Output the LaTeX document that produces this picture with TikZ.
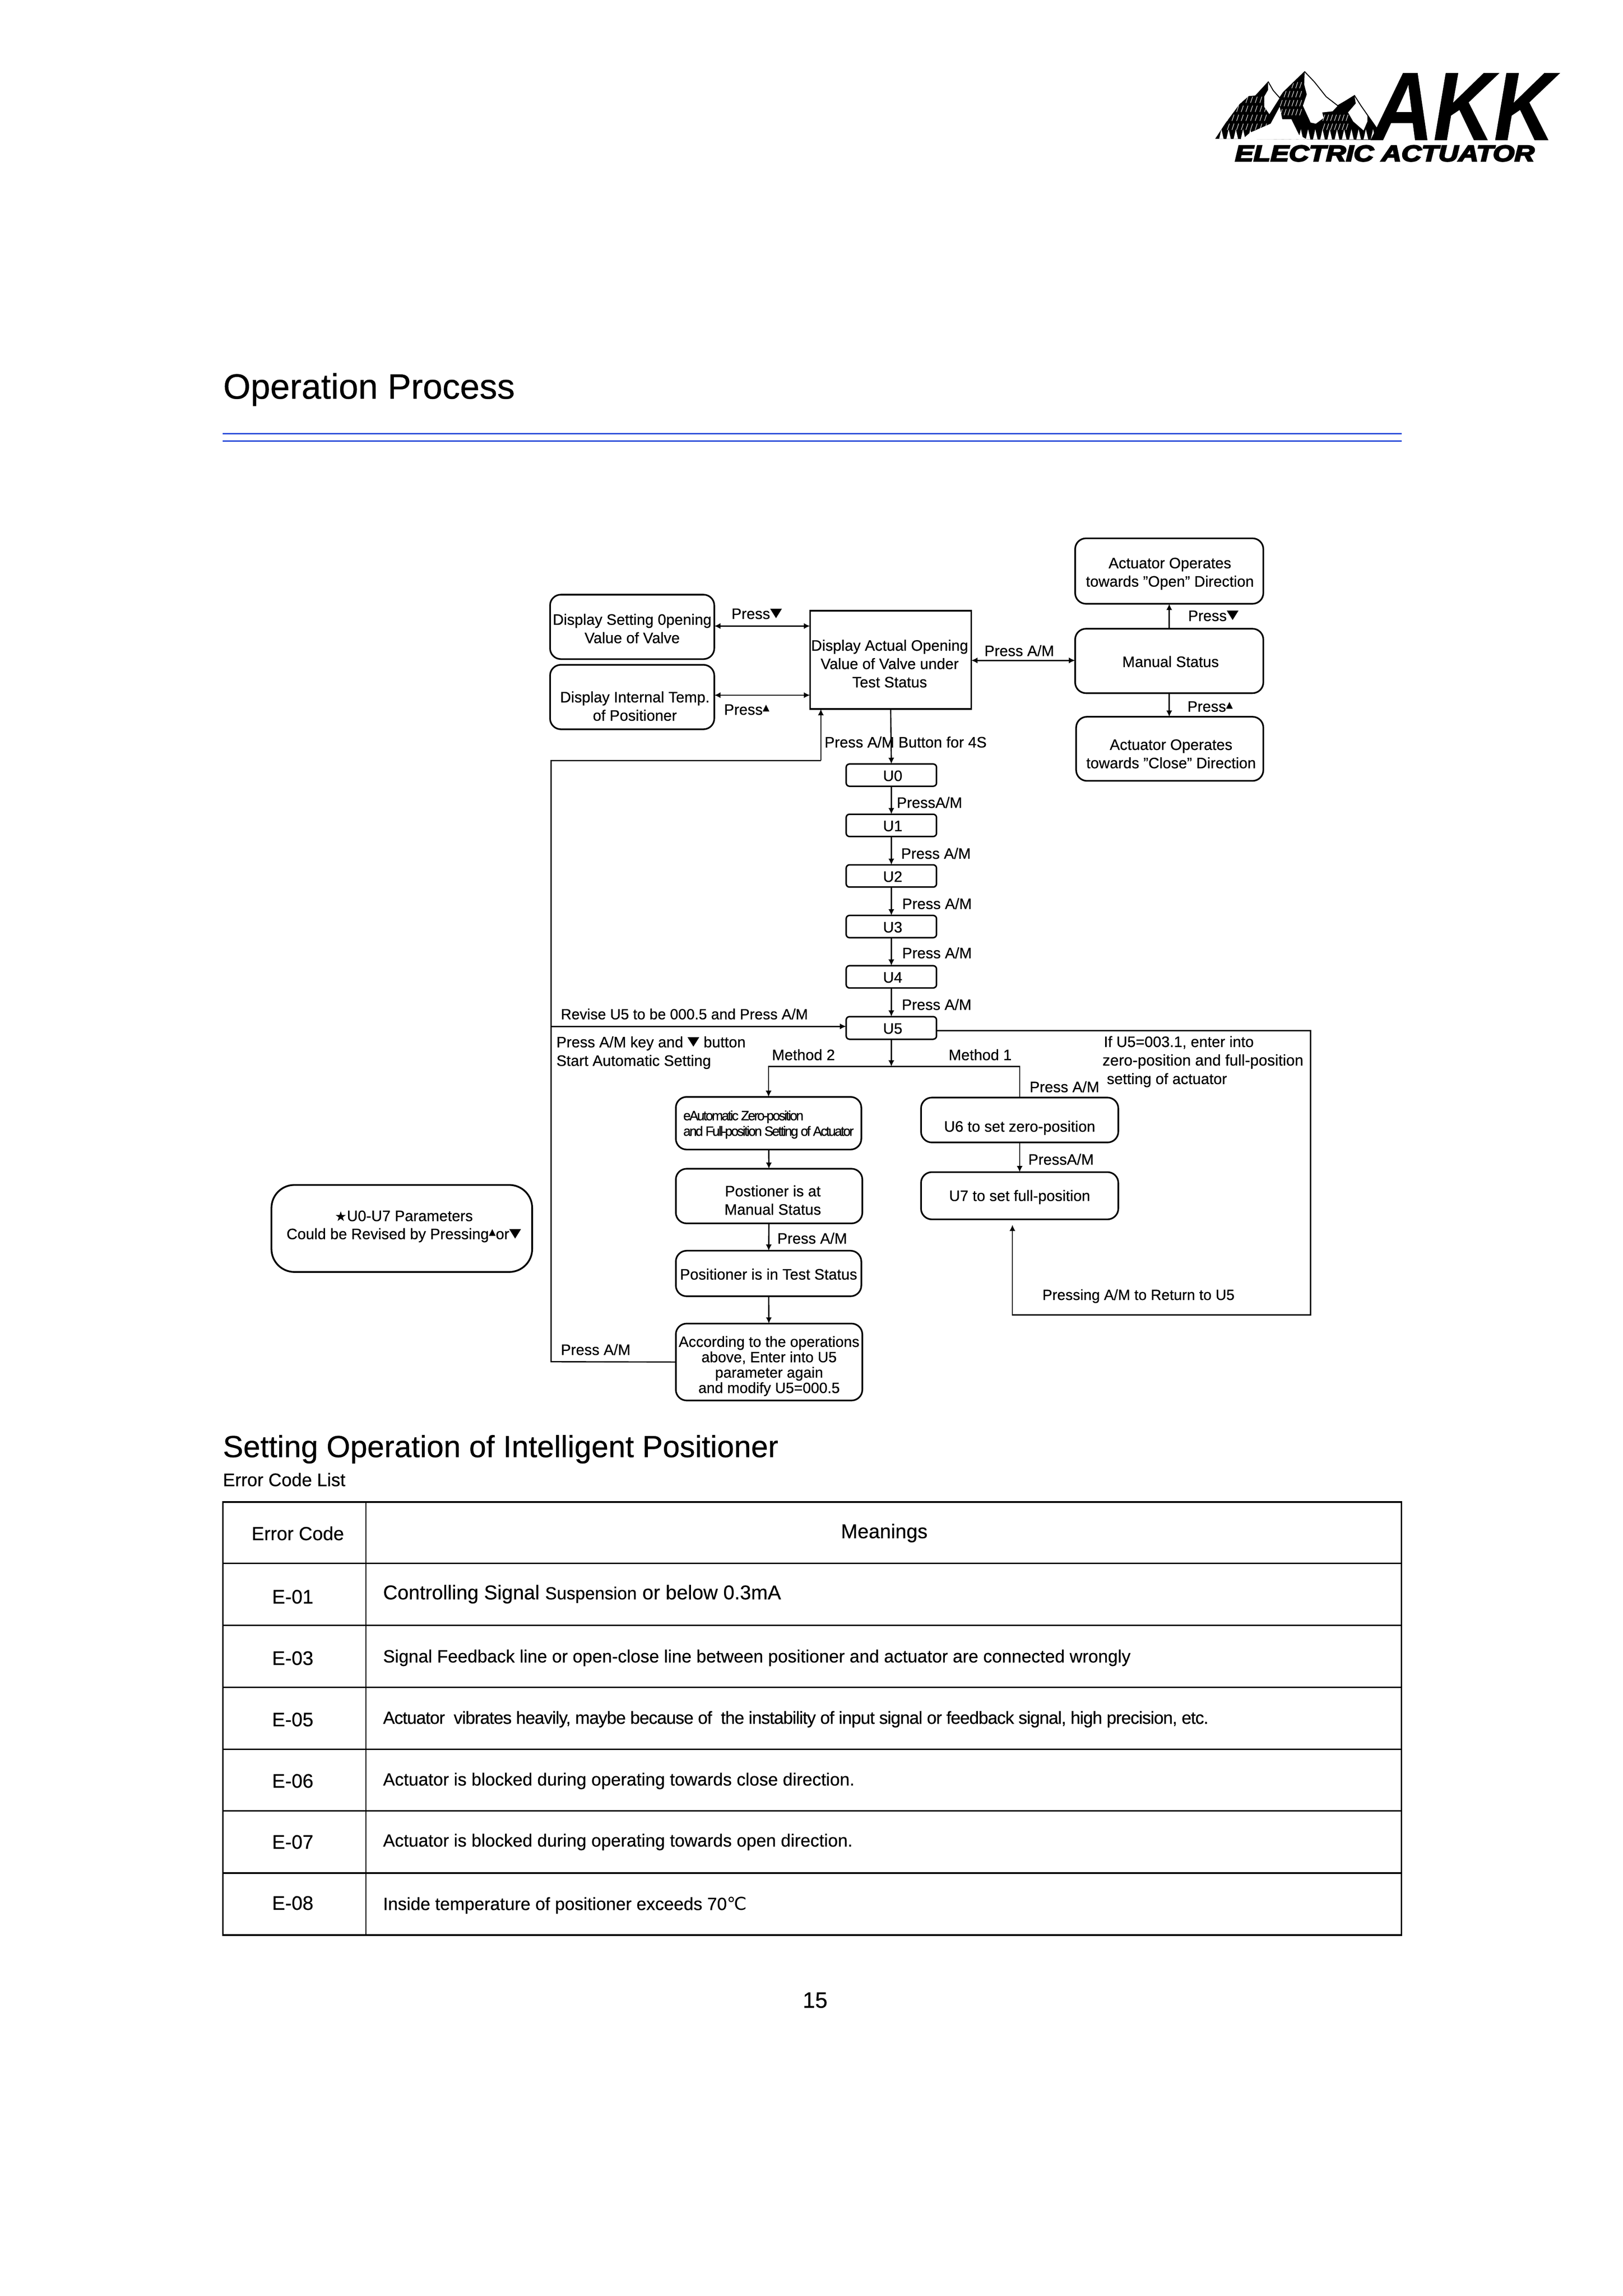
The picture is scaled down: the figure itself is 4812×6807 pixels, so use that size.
\documentclass[tikz,border=0pt]{standalone}
\usepackage{fontspec}
\setmainfont[FakeBold=0.5]{Liberation Sans}
\newfontfamily\sym{DejaVu Sans}
\newfontfamily\logof[FakeBold=5]{Liberation Sans}
\usetikzlibrary{arrows.meta}
\newcommand\fs[2]{\fontsize{#1}{#2}\selectfont}
\newcommand\dnt{\raisebox{1.5pt}{\scalebox{1}[.8]{\sym\fs{11.5}{11.5}▼}}}
\newcommand\upt{\raisebox{3pt}{\sym\fs{6.6}{6.6}▲}}
\newcommand\bx[6]{\node[#1,minimum width={(#5-#3)*0.25pt},minimum height={(#6-#4)*0.25pt}] (#2) at ({(#3+#5)/2},{(#4+#6)/2}) {};}
\tikzset{
  rbx/.style={draw=black,line width=1.2pt,rounded corners=8pt,inner sep=0,outer sep=0},
  ubx/.style={draw=black,line width=1.1pt,rounded corners=2.5pt,inner sep=0,outer sep=0},
  sbx/.style={draw=black,line width=1.2pt,inner sep=0,outer sep=0},
  starbx/.style={draw=black,line width=1.3pt,rounded corners=17pt,inner sep=0,outer sep=0},
  txt/.style={align=center,inner sep=0,outer sep=0,font=\fs{11.2}{13.6}},
  lbl/.style={anchor=west,inner sep=0,outer sep=0,text height=8pt,text depth=0pt,font=\fs{11.2}{13.6}},
  conn/.style={line width=0.9pt,draw=black},
  arr/.style={conn,-{Latex[length=4.6pt,width=4.4pt]}},
  darr/.style={conn,{Latex[length=4.6pt,width=4.4pt]}-{Latex[length=4.6pt,width=4.4pt]}},
  tbl/.style={draw=black,line width=1.1pt},
  tcode/.style={inner sep=0,outer sep=0,font=\fs{14.5}{16}},
  tmean/.style={anchor=west,inner sep=0,outer sep=0,text height=8.8pt,text depth=0pt,font=\fs{13.1}{15}},
  blueln/.style={draw={rgb,255:red,36;green,71;blue,216},line width=1pt},
  ttl/.style={anchor=base west,inner sep=0,outer sep=0}
}
\begin{document}
\begin{tikzpicture}[x=0.25pt,y=-0.25pt]
\useasboundingbox (0,0) rectangle (4812,6807);

% --- logo
\begin{scope}[shift={(3500,100)},x=0.19125pt,y=-0.08333pt]
  \def\mtn{(135,935)--(175,795)--(230,625)--(265,555)--(290,550)--(340,425)--(360,505)--(385,570)--(400,520)--(482,338)--(520,430)--(565,560)--(610,640)--(640,600)--(675,550)--(700,640)--(770,870)--(760,945)--cycle}
  \fill[black] \mtn;
  \begin{scope}
    \clip \mtn;
    \foreach \xa in {190,208,...,340}{\foreach \ya in {560,640,720,800}{
      \draw[white,line width=0.35pt] (\xa,\ya)--(\xa-8,\ya+55);}}
    \foreach \xa in {395,410,...,480}{\foreach \ya in {430,510,590,670}{
      \draw[white,line width=0.35pt] (\xa,\ya)--(\xa-8,\ya+55);}}
    \foreach \xa in {560,575,...,650}{\foreach \ya in {720,800}{
      \draw[white,line width=0.35pt] (\xa,\ya)--(\xa-8,\ya+55);}}
    \fill[white] (340,428)--(360,505)--(385,570)--(345,715)--(325,650)--(325,560)--(340,500)--cycle;
    \fill[white] (482,340)--(520,430)--(565,560)--(610,640)--(590,690)--(550,700)--(555,750)--(525,800)--(505,790)--(475,640)--(490,540)--(480,450)--cycle;
    \fill[white] (675,552)--(700,640)--(725,730)--(725,780)--(710,860)--(670,780)--(650,700)--(680,620)--cycle;
    \fill[white] (385,650)--(395,760)--(430,760)--(460,900)--(490,940)--(240,940)--(270,880)--(350,800)--cycle;
    \foreach \xa in {150,178,...,740}{
      \fill[white] (\xa,940)--(\xa+9,850)--(\xa+18,940)--cycle;}
  \end{scope}
  \draw[black,line width=0.7pt] (340,425)--(360,505)--(385,570)--(400,520)--(482,338)--(520,430)--(565,560)--(610,640)--(640,600)--(675,550)--(700,640)--(770,870);
\end{scope}
\node[inner sep=0,outer sep=0,anchor=base west] (logoakk) at (4070,415)
  {\scalebox{.865}[1]{\bfseries\itshape\fontsize{72}{72}\selectfont AKK}};
\node[inner sep=0,outer sep=0,anchor=base west] (logoea) at (3662,478)
  {\scalebox{1.224}[1]{\logof\bfseries\itshape\fontsize{16.8}{17}\selectfont ELECTRIC ACTUATOR}};

% --- headings
\node[ttl,font=\fs{26.1}{28}] (h1) at (662,1182) {Operation Process};
\draw[blueln] (660,1286)--(4156,1286);
\draw[blueln] (660,1307)--(4156,1307);
\node[ttl,font=\fs{22.65}{25}] (h2) at (661,4320) {Setting Operation of Intelligent Positioner};
\node[ttl,font=\fs{13.5}{15}] (h3) at (661,4406) {Error Code List};

% --- flow boxes
\bx{rbx}{setting}{1631}{1763}{2118}{1954}
\bx{rbx}{internal}{1631}{1971}{2118}{2162}
\bx{sbx}{main}{2402}{1811}{2880}{2102}
\bx{rbx}{open}{3188}{1596}{3746}{1790}
\bx{rbx}{manual}{3188}{1864}{3746}{2055}
\bx{rbx}{close}{3191}{2125}{3746}{2315}
\bx{ubx}{U0}{2509}{2265}{2777}{2331}
\bx{ubx}{U1}{2509}{2414}{2777}{2480}
\bx{ubx}{U2}{2509}{2564}{2777}{2630}
\bx{ubx}{U3}{2509}{2714}{2777}{2780}
\bx{ubx}{U4}{2509}{2863}{2777}{2929}
\bx{ubx}{U5}{2509}{3014}{2777}{3081}
\bx{rbx}{auto}{2004}{3252}{2554}{3408}
\bx{rbx}{post}{2004}{3465}{2557}{3627}
\bx{rbx}{test}{2004}{3708}{2554}{3843}
\bx{rbx}{accord}{2004}{3924}{2557}{4152}
\bx{rbx}{U6}{2731}{3254}{3316}{3387}
\bx{rbx}{U7}{2731}{3475}{3316}{3615}
\bx{starbx}{star}{805}{3513}{1578}{3771}

\node[txt] (setting-t) at ([shift={(0,5)}]setting.center) {Display Setting 0pening\\Value of Valve};
\node[txt] (internal-t) at ([shift={(8,27)}]internal.center) {Display Internal Temp.\\of Positioner};
\node[txt] (main-t) at ([shift={(-3,11)}]main.center) {Display Actual Opening\\Value of Valve under\\Test Status};
\node[txt] (open-t) at ([shift={(2,8)}]open.center) {Actuator Operates\\towards "Open" Direction};
\node[txt] (manual-t) at ([shift={(4,2)}]manual.center) {Manual Status};
\node[txt] (close-t) at ([shift={(4,15)}]close.center) {Actuator Operates\\towards "Close" Direction};
\foreach \u in {U0,U1,U2,U3,U4,U5}{\node[txt] (\u-t) at ([shift={(4,2)}]\u.center) {\u};}
\node[txt,anchor=west,align=left,font={\fs{10}{11.5}\addfontfeature{LetterSpace=-10}}] (auto-t) at ([shift={(22,4)}]auto.west) {eAutomatic Zero-position\\and Full-position Setting of Actuator};
\node[txt] (post-t) at ([shift={(11,12)}]post.center) {Postioner is at\\Manual Status};
\node[txt] (test-t) at ([shift={(0,2)}]test.center) {Positioner is in Test Status};
\node[txt,font=\fs{11}{11.4}] (accord-t) at ([shift={(0,12)}]accord.center) {According to the operations\\above, Enter into U5\\parameter again\\and modify U5=000.5};
\node[txt] (U6-t) at ([shift={(0,23)}]U6.center) {U6 to set zero-position};
\node[txt] (U7-t) at ([shift={(0,4)}]U7.center) {U7 to set full-position};
\node[txt,font=\fs{11.2}{13.4}] (star-t) at ([shift={(6,-6)}]star.center) {{\sym\fs{10}{10}★}U0-U7 Parameters\\Could be Revised by Pressing\upt or\dnt};

% --- flow connectors
\coordinate (lt) at (1634,2255);
\coordinate (lb) at (1634,4037);
\coordinate (li) at (2434,2255);
\coordinate (lm) at (1634,3043);
\coordinate (bus) at (2643,3162);
\coordinate (r1) at (3886,3056);
\coordinate (r2) at (3886,3898);
\coordinate (r3) at (3002,3898);
\coordinate (r4) at (3002,3631);
\draw[darr] (setting.east |- 0,1856) -- (main.west |- 0,1856);
\draw[darr] (internal.east |- 0,2061) -- (main.west |- 0,2061);
\draw[darr] (main.east |- 0,1958) -- (manual.west |- 0,1958);
\draw[arr] (manual.north) -- (open.south);
\draw[arr] (manual.south) -- (close.north -| manual.south);
\draw[arr] (main.south) -- (U0.north);
\draw[arr] (U0) -- (U1);
\draw[arr] (U1) -- (U2);
\draw[arr] (U2) -- (U3);
\draw[arr] (U3) -- (U4);
\draw[arr] (U4) -- (U5);
\draw[arr] (U5) -- (bus);
\draw[arr] (bus) -| (auto.north);
\draw[conn] (bus) -| (U6.north);
\draw[arr] (auto) -- (post);
\draw[arr] (post) -- (test);
\draw[arr] (test) -- (accord);
\draw[arr] (U6) -- (U7);
\draw[conn] (accord.west) -- (lb) -- (lt) -- (li);
\draw[arr] (li) -- (li |- main.south);
\draw[arr] (lm) -- (lm -| U5.west);
\draw[arr] (U5.east |- r1) -- (r1) -- (r2) -- (r3) -- (r4);

% --- flow labels
\node[lbl] (l1) at (2169,1819) {Press\dnt};
\node[lbl] (l2) at (2147,2103) {Press\upt};
\node[lbl] (l3) at (2919,1929) {Press A/M};
\node[lbl] (l4) at (3523,1825) {Press\dnt};
\node[lbl] (l5) at (3521,2094) {Press\upt};
\node[lbl] (l6) at (2445,2200) {Press A/M Button for 4S};
\node[lbl] (l7) at (2659,2379) {PressA/M};
\node[lbl] (l8) at (2672,2530) {Press A/M};
\node[lbl] (l9) at (2675,2679) {Press A/M};
\node[lbl] (l10) at (2675,2825) {Press A/M};
\node[lbl] (l11) at (2674,2978) {Press A/M};
\node[lbl,font=\fs{10.95}{13.6}] (l12) at (1663,3006) {Revise U5 to be 000.5 and Press A/M};
\node[lbl] (l13) at (1650,3089) {Press A/M key and \dnt{} button};
\node[lbl] (l14) at (1650,3144) {Start Automatic Setting};
\node[lbl] (l15) at (2289,3127) {Method 2};
\node[lbl] (l16) at (2813,3127) {Method 1};
\node[lbl] (l17) at (3273,3088) {If U5=003.1, enter into};
\node[lbl,font=\fs{11.45}{13.6}] (l18) at (3269,3143) {zero-position and full-position};
\node[lbl] (l19) at (3282,3198) {setting of actuator};
\node[lbl] (l20) at (3053,3222) {Press A/M};
\node[lbl] (l21) at (3049,3437) {PressA/M};
\node[lbl] (l22) at (2305,3671) {Press A/M};
\node[lbl,font=\fs{10.95}{13.6}] (l23) at (3091,3838) {Pressing A/M to Return to U5};
\node[lbl] (l24) at (1663,4001) {Press A/M};

% --- table
\draw[tbl] (661,4453) rectangle (4156,5737);
\foreach \ya in {4635,4819,5002,5186,5369,5553}{\draw[tbl] (661,\ya)--(4156,\ya);}
\draw[tbl,line width=0.9pt] (1085,4453)--(1085,5737);
\node[tcode,font=\fs{14}{16}] (th1) at (883,4546) {Error Code};
\node[tcode,font=\fs{14.8}{16}] (th2) at (2622,4545) {Meanings};
\node[tcode] (c1) at (868,4734) {E-01};
\node[tcode] (c2) at (868,4916) {E-03};
\node[tcode] (c3) at (868,5098) {E-05};
\node[tcode] (c4) at (868,5280) {E-06};
\node[tcode] (c5) at (868,5461) {E-07};
\node[tcode] (c6) at (868,5642) {E-08};
\node[tmean] (m1) at (1136,4724) {\fs{14.8}{16}Controlling Signal {\fs{13}{16}Suspension} or below 0.3mA};
\node[tmean] (m2) at (1136,4911) {Signal Feedback line or open-close line between positioner and actuator are connected wrongly};
\node[tmean,font={\fs{13}{15}\addfontfeature{LetterSpace=-2.8}}] (m3) at (1136,5093) {Actuator\ \ vibrates heavily, maybe because of\ \ the instability of input signal or feedback signal, high precision, etc.};
\node[tmean] (m4) at (1136,5276) {Actuator is blocked during operating towards close direction.};
\node[tmean] (m5) at (1136,5457) {Actuator is blocked during operating towards open direction.};
\node[tmean] (m6) at (1136,5645) {Inside temperature of positioner exceeds 70{\sym ℃}};
\node[inner sep=0,outer sep=0,font=\fs{16.5}{18}] (pg) at (2417,5930) {15};
\end{tikzpicture}
\end{document}
